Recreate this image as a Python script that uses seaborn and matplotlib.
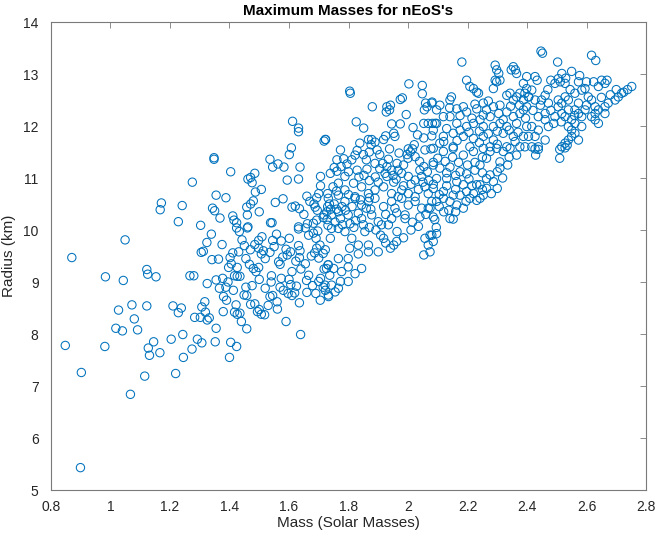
import matplotlib
matplotlib.use("Agg")
import matplotlib.pyplot as plt
import seaborn as sns
import pandas as pd

# (mass [solar masses], radius [km]) of the maximum-mass configuration for each nEoS,
# grouped by region of the mass–radius plane
low_mass = [
    (0.870, 9.47), (0.848, 7.78), (0.902, 7.26), (0.899, 5.43), (0.983, 9.10), (0.981, 7.76),
    (1.049, 9.81), (1.043, 9.03), (1.027, 8.46), (1.018, 8.11), (1.040, 8.06), (1.072, 8.56),
    (1.080, 8.29), (1.067, 6.84), (1.091, 8.08), (1.122, 9.24), (1.125, 9.15), (1.153, 9.10),
    (1.122, 8.54), (1.115, 7.19), (1.145, 7.85), (1.127, 7.73), (1.131, 7.59), (1.166, 7.64),
    (1.167, 10.39), (1.171, 10.52), (1.204, 7.90), (1.219, 7.24), (1.210, 8.54), (1.238, 8.50),
    (1.228, 8.41), (1.228, 10.16), (1.241, 10.47), (1.275, 10.92), (1.243, 7.99), (1.245, 7.55),
    (1.274, 7.71), (1.292, 7.90), (1.307, 7.83), (1.267, 9.12), (1.280, 9.12), (1.303, 10.09),
    (1.324, 9.76), (1.305, 9.57), (1.312, 9.59), (1.325, 8.97), (1.307, 8.52), (1.317, 8.62),
    (1.283, 8.32), (1.302, 8.32), (1.325, 8.27),
]

mid_upper = [
    (1.612, 12.09), (1.632, 11.96), (1.632, 11.89), (1.718, 11.71), (1.722, 11.74), (1.348, 11.39),
    (1.348, 11.36), (1.608, 11.58), (1.601, 11.45), (1.536, 11.36), (1.563, 11.27), (1.545, 11.21),
    (1.583, 11.21), (1.637, 11.21), (1.404, 11.12), (1.485, 11.09), (1.462, 10.98), (1.471, 11.01),
    (1.476, 10.91), (1.594, 10.96), (1.632, 10.98), (1.706, 11.03), (1.706, 10.85), (1.507, 10.78),
    (1.487, 10.73), (1.355, 10.67), (1.388, 10.62), (1.480, 10.56), (1.471, 10.50), (1.554, 10.53),
    (1.693, 10.62), (1.670, 10.55), (1.684, 10.50), (1.343, 10.42), (1.350, 10.37), (1.458, 10.44),
    (1.610, 10.44), (1.621, 10.46), (1.635, 10.41), (1.688, 10.44), (1.695, 10.38), (1.368, 10.23),
    (1.411, 10.27), (1.415, 10.19), (1.460, 10.29), (1.538, 10.14), (1.543, 10.14), (1.424, 10.14),
    (1.462, 10.06), (1.632, 10.06), (1.662, 10.12), (1.682, 10.13), (1.693, 10.19),
    (1.715, 10.24), (1.731, 10.09), (1.727, 10.35), (1.718, 10.29), (1.736, 10.50),
    (1.650, 10.30), (1.700, 10.70), (1.740, 10.40), (1.660, 10.65), (1.580, 10.60), (1.500, 10.35),
]

mid_lower = [
    (1.339, 9.92), (1.375, 9.72), (1.433, 9.97), (1.442, 9.81), (1.424, 10.04), (1.460, 10.04),
    (1.341, 9.43), (1.363, 9.44), (1.411, 9.56), (1.402, 9.47), (1.406, 9.35), (1.397, 9.28),
    (1.431, 9.58), (1.426, 9.28), (1.467, 9.34), (1.480, 9.26), (1.489, 9.20), (1.498, 9.28),
    (1.485, 9.72), (1.498, 9.80), (1.509, 9.87), (1.498, 9.65), (1.514, 9.60), (1.507, 9.54),
    (1.520, 9.45), (1.536, 9.57), (1.558, 9.92), (1.574, 9.79), (1.590, 9.63), (1.594, 9.52),
    (1.579, 9.48), (1.570, 9.34), (1.565, 9.39), (1.601, 9.84), (1.632, 9.70), (1.637, 9.60),
    (1.635, 9.47), (1.623, 9.40), (1.632, 10.02), (1.655, 10.04), (1.666, 9.90), (1.682, 9.94),
    (1.697, 9.98), (1.691, 9.84), (1.704, 9.71), (1.693, 9.65), (1.686, 9.56), (1.700, 9.46),
    (1.715, 9.55), (1.722, 9.62), (1.731, 9.33), (1.355, 9.04), (1.377, 9.07), (1.366, 8.88),
    (1.388, 8.90), (1.413, 8.84), (1.426, 9.11), (1.435, 9.11), (1.417, 9.12), (1.476, 8.93),
    (1.449, 8.75), (1.458, 8.74), (1.541, 9.12), (1.574, 9.07), (1.570, 8.90), (1.581, 8.84),
    (1.606, 8.95), (1.610, 8.74), (1.597, 8.78), (1.619, 8.79), (1.635, 8.60), (1.536, 8.72),
    (1.545, 8.74), (1.659, 9.03), (1.666, 9.13), (1.679, 8.93), (1.700, 9.01), (1.715, 8.90),
    (1.718, 9.25), (1.726, 9.26), (1.706, 9.07), (1.722, 8.84), (1.733, 8.72), (1.319, 8.42),
    (1.332, 8.31), (1.390, 8.65), (1.422, 8.56), (1.417, 8.42), (1.426, 8.38), (1.440, 8.24),
    (1.435, 8.40), (1.379, 8.43), (1.471, 8.57), (1.485, 8.58), (1.494, 8.43), (1.507, 8.38),
    (1.518, 8.37), (1.500, 8.47), (1.561, 8.48), (1.590, 8.24), (1.639, 7.99), (1.458, 8.10),
    (1.355, 8.11), (1.352, 7.85), (1.404, 7.84), (1.424, 7.76), (1.400, 7.55),
    (1.455, 9.45), (1.470, 9.62), (1.450, 9.70), (1.545, 9.80), (1.550, 9.68), (1.605, 9.58),
    (1.610, 9.20), (1.640, 9.25), (1.655, 9.35), (1.675, 9.50), (1.600, 9.05), (1.540, 9.00),
    (1.520, 8.88), (1.500, 9.05), (1.455, 8.90), (1.395, 9.00), (1.380, 8.72), (1.625, 8.92),
    (1.660, 8.80), (1.690, 8.78), (1.705, 8.65), (1.560, 8.62), (1.530, 8.55),
]

core_upper = [
    (1.804, 12.67), (1.806, 12.63), (2.003, 12.81), (2.048, 12.78), (2.048, 12.62), (1.880, 12.37),
    (1.929, 12.37), (1.941, 12.40), (1.938, 12.31), (1.927, 12.27), (1.974, 12.51), (1.981, 12.54),
    (1.994, 12.22), (2.059, 12.44), (2.064, 12.37), (2.055, 12.31), (2.080, 12.44), (2.053, 12.05),
    (2.068, 12.05), (2.082, 12.05), (2.091, 12.05), (1.826, 12.08), (1.851, 11.96), (1.945, 12.04),
    (1.974, 12.04), (2.017, 11.97), (2.032, 11.83), (2.053, 11.77), (2.080, 11.81), (1.723, 11.74),
    (1.878, 11.74), (1.889, 11.69), (1.876, 11.64), (1.925, 11.81), (1.918, 11.74), (1.952, 11.86),
    (1.956, 11.80), (1.938, 11.56), (1.838, 11.67), (1.829, 11.53), (1.822, 11.44), (1.811, 11.35),
    (1.773, 11.54), (1.784, 11.37), (1.761, 11.35), (1.795, 11.27), (1.867, 11.74), (1.896, 11.54),
    (1.905, 11.45), (2.001, 11.56), (2.015, 11.56), (2.008, 11.50), (2.021, 11.64), (1.997, 11.45),
    (2.024, 11.41), (2.039, 11.32), (2.057, 11.54), (2.077, 11.56), (2.053, 11.22), (1.934, 11.36),
    (1.963, 11.28), (1.929, 11.22), (1.945, 11.15), (1.967, 11.15), (1.860, 11.35), (1.889, 11.28),
    (1.862, 11.17), (1.829, 11.15), (1.788, 11.03), (1.761, 11.13), (1.739, 11.09), (1.817, 10.90),
    (1.766, 10.90), (1.748, 10.83), (1.730, 10.70), (1.788, 10.77), (1.844, 10.83), (1.822, 10.64),
    (1.867, 10.70), (1.889, 10.77), (1.918, 10.83), (1.900, 10.92), (1.929, 11.03), (1.923, 11.09),
    (1.952, 10.92), (1.979, 10.77), (2.001, 11.03), (1.979, 11.09), (2.024, 10.96), (2.046, 11.03),
    (2.057, 10.83), (2.001, 10.70), (2.024, 10.64), (2.068, 10.70), (1.967, 10.64), (1.945, 10.70),
    (1.752, 11.20), (1.775, 11.22), (1.800, 11.12), (1.835, 11.02), (1.852, 11.05), (1.870, 10.95),
    (1.890, 11.02), (1.905, 11.18), (1.915, 11.28), (1.950, 11.05), (1.960, 10.98), (1.985, 10.85),
    (2.010, 10.88), (2.035, 10.78), (2.050, 10.92), (2.070, 10.95), (2.085, 10.88), (2.040, 11.15),
    (2.065, 11.12), (2.085, 11.30), (1.985, 11.25), (2.000, 11.38), (1.970, 11.48), (1.850, 11.45),
    (1.870, 11.50), (1.800, 10.68), (1.760, 10.75), (1.840, 10.58), (1.870, 10.62),
]

core_lower = [
    (1.732, 10.61), (1.766, 10.67), (1.788, 10.55), (1.822, 10.61), (1.844, 10.48), (1.867, 10.55),
    (1.889, 10.61), (1.945, 10.55), (1.956, 10.42), (1.979, 10.61), (2.001, 10.48), (2.024, 10.55),
    (2.046, 10.42), (2.068, 10.42), (2.080, 10.55), (1.743, 10.29), (1.766, 10.35), (1.773, 10.22),
    (1.799, 10.29), (1.833, 10.32), (1.844, 10.22), (1.878, 10.29), (1.900, 10.16), (1.911, 10.10),
    (1.934, 10.10), (1.945, 10.22), (1.963, 9.97), (1.990, 10.29), (1.990, 10.22), (2.035, 10.07),
    (2.057, 9.84), (2.080, 9.90), (2.068, 9.71), (2.053, 9.52), (1.952, 9.71), (1.941, 9.65),
    (1.918, 9.84), (1.900, 9.58), (1.867, 9.58), (1.855, 9.97), (1.811, 9.84), (1.788, 9.97),
    (1.766, 10.03), (1.739, 9.84), (1.743, 10.03), (1.804, 9.65), (1.833, 9.71), (1.867, 9.71),
    (1.833, 9.54), (1.799, 9.45), (1.766, 9.45), (1.732, 9.33), (1.750, 9.26), (1.777, 9.20),
    (1.799, 9.29), (1.822, 9.16), (1.844, 9.26), (1.773, 9.01), (1.799, 9.01), (1.737, 9.13),
    (1.721, 8.94), (1.743, 8.94), (1.766, 8.88), (1.732, 8.75), (1.755, 8.81),
    (1.752, 10.50), (1.778, 10.45), (1.760, 10.40), (1.790, 10.38), (1.812, 10.45), (1.805, 10.12),
    (1.824, 10.18), (1.850, 10.10), (1.780, 10.10), (1.755, 10.15), (1.730, 10.45), (1.728, 10.20),
    (1.860, 10.42), (1.875, 10.40), (1.818, 10.05), (1.870, 10.05), (1.892, 10.00), (1.925, 10.30),
    (1.918, 10.45), (1.962, 10.33), (1.908, 9.90), (1.925, 9.75), (1.962, 9.78), (1.985, 9.85),
    (2.010, 10.00), (2.015, 10.15), (2.040, 10.25), (2.060, 10.30), (2.090, 10.20), (2.095, 10.05),
]

high_upper = [
    (2.181, 13.23), (2.293, 13.17), (2.298, 13.08), (2.305, 13.01), (2.347, 13.08), (2.361, 13.08),
    (2.365, 13.01), (2.354, 13.14), (2.197, 12.88), (2.208, 12.76), (2.220, 12.72), (2.231, 12.65),
    (2.237, 12.63), (2.293, 12.88), (2.298, 12.85), (2.309, 12.88), (2.287, 12.72), (2.399, 12.95),
    (2.388, 12.82), (2.399, 12.72), (2.376, 12.63), (2.343, 12.63), (2.332, 12.59), (2.354, 12.50),
    (2.365, 12.56), (2.388, 12.50), (2.406, 12.56), (2.146, 12.56), (2.141, 12.50), (2.081, 12.46),
    (2.107, 12.40), (2.096, 12.31), (2.186, 12.37), (2.164, 12.33), (2.197, 12.27), (2.231, 12.33),
    (2.253, 12.44), (2.264, 12.31), (2.276, 12.18), (2.253, 12.21), (2.242, 12.12), (2.287, 12.37),
    (2.309, 12.40), (2.305, 12.24), (2.332, 12.27), (2.354, 12.18), (2.376, 12.24), (2.388, 12.31),
    (2.399, 12.37), (2.365, 12.05), (2.332, 11.99), (2.309, 12.05), (2.287, 11.99), (2.253, 11.99),
    (2.220, 12.05), (2.197, 11.99), (2.164, 12.05), (2.141, 12.18), (2.119, 12.18), (2.096, 12.05),
    (2.085, 11.92), (2.119, 11.80), (2.152, 11.86), (2.186, 11.80), (2.220, 11.76), (2.253, 11.80),
    (2.287, 11.73), (2.320, 11.86), (2.354, 11.80), (2.388, 11.80), (2.399, 11.99), (2.107, 11.67),
    (2.152, 11.60), (2.208, 11.60), (2.276, 11.60), (2.332, 11.60), (2.376, 11.60),
    (2.130, 11.95), (2.175, 11.92), (2.205, 11.88), (2.240, 11.90), (2.270, 11.85), (2.300, 11.90),
    (2.340, 11.92), (2.370, 11.88), (2.140, 12.35), (2.175, 12.20), (2.215, 12.15), (2.225, 12.42),
    (2.270, 12.48), (2.320, 12.12), (2.345, 12.38), (2.375, 12.40), (2.395, 12.15), (2.120, 11.70),
    (2.165, 11.72), (2.240, 11.68), (2.300, 11.65), (2.360, 11.70),
]

high_lower = [
    (2.085, 11.57), (2.119, 11.51), (2.152, 11.57), (2.186, 11.44), (2.220, 11.51), (2.253, 11.57),
    (2.276, 11.51), (2.264, 11.38), (2.298, 11.57), (2.320, 11.51), (2.343, 11.57), (2.365, 11.44),
    (2.242, 11.25), (2.309, 11.31), (2.309, 11.19), (2.085, 11.25), (2.107, 11.19), (2.141, 11.21),
    (2.175, 11.12), (2.197, 11.08), (2.096, 10.99), (2.130, 10.99), (2.164, 10.93), (2.186, 10.87),
    (2.085, 10.80), (2.119, 10.74), (2.152, 10.67), (2.175, 10.67), (2.197, 10.74), (2.220, 10.70),
    (2.242, 10.87), (2.264, 10.99), (2.276, 11.06), (2.287, 10.93), (2.264, 10.80), (2.231, 10.87),
    (2.208, 10.61), (2.231, 10.57), (2.186, 10.42), (2.164, 10.48), (2.141, 10.55), (2.119, 10.61),
    (2.096, 10.55), (2.074, 10.42), (2.141, 10.22), (2.152, 10.21), (2.137, 10.38), (2.242, 10.61),
    (2.253, 10.67), (2.074, 9.90), (2.096, 9.93), (2.085, 9.78), (2.074, 9.58),
    (2.100, 11.38), (2.125, 11.32), (2.150, 11.40), (2.170, 11.30), (2.200, 11.25), (2.225, 11.30),
    (2.250, 11.40), (2.130, 11.10), (2.160, 11.05), (2.205, 10.98), (2.225, 11.15), (2.250, 11.10),
    (2.215, 10.85), (2.250, 10.78), (2.280, 10.70), (2.300, 10.80), (2.318, 11.00), (2.300, 11.12),
    (2.335, 11.25), (2.340, 11.40), (2.105, 10.68), (2.130, 10.85), (2.160, 10.78), (2.195, 10.55),
    (2.105, 10.45), (2.120, 10.35), (2.160, 10.35), (2.085, 10.25),
]

heaviest = [
    (2.447, 13.44), (2.452, 13.40), (2.503, 13.23), (2.617, 13.36), (2.631, 13.26), (2.427, 12.95),
    (2.434, 12.88), (2.517, 13.01), (2.505, 12.91), (2.512, 12.85), (2.494, 12.82), (2.528, 12.82),
    (2.550, 13.05), (2.577, 12.97), (2.573, 12.85), (2.624, 12.85), (2.651, 12.88), (2.669, 12.88),
    (2.662, 12.82), (2.640, 12.76), (2.752, 12.76), (2.718, 12.63), (2.725, 12.65), (2.707, 12.56),
    (2.696, 12.50), (2.393, 12.63), (2.405, 12.56), (2.427, 12.50), (2.416, 12.69), (2.461, 12.59),
    (2.449, 12.50), (2.472, 12.44), (2.505, 12.50), (2.517, 12.44), (2.528, 12.56), (2.539, 12.50),
    (2.561, 12.63), (2.584, 12.69), (2.595, 12.72), (2.573, 12.44), (2.561, 12.31), (2.606, 12.56),
    (2.617, 12.50), (2.629, 12.37), (2.640, 12.31), (2.662, 12.37), (2.673, 12.44), (2.595, 12.31),
    (2.573, 12.24), (2.539, 12.31), (2.517, 12.24), (2.505, 12.37), (2.528, 12.18), (2.550, 12.12),
    (2.584, 12.18), (2.617, 12.18), (2.629, 12.24), (2.629, 12.12), (2.640, 12.05), (2.662, 12.24),
    (2.494, 12.18), (2.461, 12.24), (2.438, 12.18), (2.461, 12.12), (2.472, 11.99), (2.438, 11.92),
    (2.416, 11.99), (2.405, 11.80), (2.427, 11.80), (2.461, 11.73), (2.539, 11.99), (2.550, 11.92),
    (2.561, 11.86), (2.550, 11.80), (2.539, 11.73), (2.528, 11.67), (2.517, 11.60), (2.561, 12.05),
    (2.584, 11.99), (2.573, 11.73), (2.393, 11.60), (2.416, 11.60), (2.438, 11.60), (2.427, 11.56),
    (2.438, 11.55), (2.429, 11.44), (2.510, 11.55), (2.510, 11.38), (2.528, 11.58), (2.535, 11.63),
    (2.420, 12.30), (2.445, 12.40), (2.480, 12.30), (2.490, 12.05), (2.515, 12.08), (2.560, 12.20),
    (2.600, 12.40), (2.650, 12.55), (2.680, 12.60), (2.700, 12.70), (2.738, 12.70), (2.600, 12.85),
    (2.470, 12.70), (2.480, 12.88), (2.530, 12.92), (2.545, 12.70),
]

groups = [low_mass, mid_upper, mid_lower, core_upper, core_lower, high_upper, high_lower, heaviest]
df = pd.DataFrame([p for g in groups for p in g], columns=["mass", "radius"])

sns.set_style("white")
plt.rcParams["font.family"] = ["Liberation Sans", "DejaVu Sans"]

axis_gray = "#262626"
line_gray = "#7a7a7a"

fig = plt.figure(figsize=(6.56, 5.36), dpi=100)
ax = fig.add_axes([51 / 656, 1 - 490 / 536, 595 / 656, 468 / 536])

sns.scatterplot(
    data=df, x="mass", y="radius", ax=ax,
    marker="o", s=36, facecolor="none", edgecolor="#0072BD", linewidth=0.75,
    legend=False,
)

ax.set_xlim(0.8, 2.8)
ax.set_ylim(5, 14)
ax.set_xticks([0.8, 1.0, 1.2, 1.4, 1.6, 1.8, 2.0, 2.2, 2.4, 2.6, 2.8])
ax.set_xticklabels(["0.8", "1", "1.2", "1.4", "1.6", "1.8", "2", "2.2", "2.4", "2.6", "2.8"])
ax.set_yticks(range(5, 15))

ax.tick_params(direction="in", length=4, width=0.6, color=line_gray,
               labelsize=10, labelcolor=axis_gray, top=True, right=True)
ax.tick_params(axis="x", pad=7)
ax.tick_params(axis="y", pad=9)
for sp in ax.spines.values():
    sp.set_color(line_gray)
    sp.set_linewidth(0.8)
    sp.set_visible(True)

ax.set_xlabel("Mass (Solar Masses)", fontsize=11, color=axis_gray, labelpad=2)
ax.set_ylabel("Radius (km)", fontsize=11, color=axis_gray, labelpad=5)
ax.set_title("Maximum Masses for nEoS's", fontsize=11, fontweight="bold", color="black", pad=5)

fig.savefig("out.png", dpi=100)
